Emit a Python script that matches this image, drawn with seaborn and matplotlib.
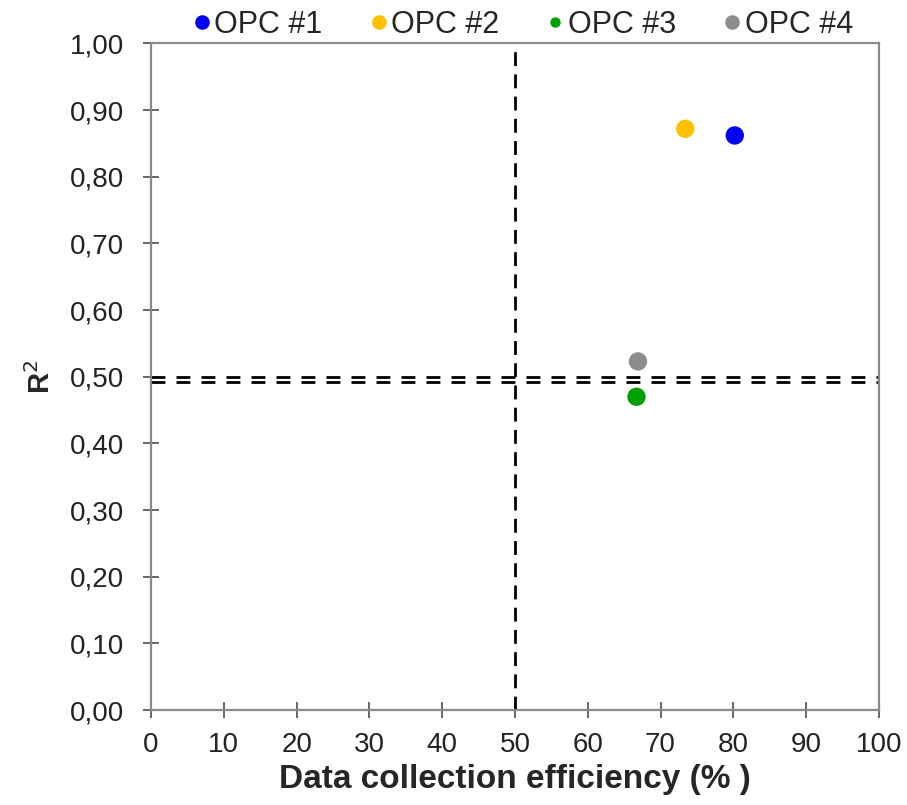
import matplotlib
matplotlib.use("Agg")
import matplotlib.pyplot as plt
import seaborn as sns
import pandas as pd
from matplotlib.ticker import FuncFormatter, MultipleLocator
from matplotlib.lines import Line2D

# Data collection efficiency (%) and R² per optical particle counter
devices = ["OPC #1", "OPC #2", "OPC #3", "OPC #4"]
efficiency = [80.2, 73.4, 66.7, 66.9]
r_squared = [0.862, 0.872, 0.470, 0.523]
colors = ["#0000F0", "#FFC000", "#00A000", "#8C8C8C"]

# Reference thresholds
eff_threshold = 50
r2_thresholds = [0.50, 0.492]

df = pd.DataFrame({"device": devices, "eff": efficiency, "r2": r_squared})

sns.set_theme(style="white")
plt.rcParams["font.family"] = ["Liberation Sans", "DejaVu Sans"]

fig = plt.figure(figsize=(9.07, 8.05), dpi=100)
ax = fig.add_axes([0.1665, 0.118, 0.8025, 0.828])

sns.scatterplot(data=df, x="eff", y="r2", hue="device", palette=colors,
                s=175, edgecolor="none", legend=False, ax=ax, zorder=3)

ax.axvline(eff_threshold, color="black", lw=2, ls=(0, (5, 3)), zorder=2)
for y in r2_thresholds:
    ax.axhline(y, color="black", lw=2, ls=(0, (5, 4)), zorder=2)

ax.set_xlim(0, 100)
ax.set_ylim(0, 1.0)
ax.xaxis.set_major_locator(MultipleLocator(10))
ax.yaxis.set_major_locator(MultipleLocator(0.1))
ax.yaxis.set_major_formatter(FuncFormatter(lambda v, p: f"{v:.2f}".replace(".", ",")))

for sp in ax.spines.values():
    sp.set_visible(True)
    sp.set_color("#8a8a8a")
    sp.set_linewidth(1.6)

ax.tick_params(axis="both", which="major", direction="inout", length=11,
               width=1.4, color="#666666", labelsize=20, labelcolor="#222222",
               bottom=True, left=True)
ax.tick_params(axis="x", pad=10)
ax.tick_params(axis="y", pad=14)

ax.set_xlabel("Data collection efficiency (% )", fontsize=24, fontweight="bold",
              labelpad=5)
ax.set_ylabel("R$^2$", fontsize=21, fontweight="bold", labelpad=10)

handles = [
    Line2D([], [], marker="o", ls="none", color=c, markeredgecolor="none",
           markersize=(7.5 if d == "OPC #3" else 10.5))
    for d, c in zip(devices, colors)
]
fig.legend(handles, devices, loc="upper center", ncol=4, frameon=False,
           bbox_to_anchor=(0.572, 1.022), fontsize=22, handletextpad=-0.15,
           columnspacing=1.3, handlelength=1.1)

fig.savefig("out.png", dpi=100)
